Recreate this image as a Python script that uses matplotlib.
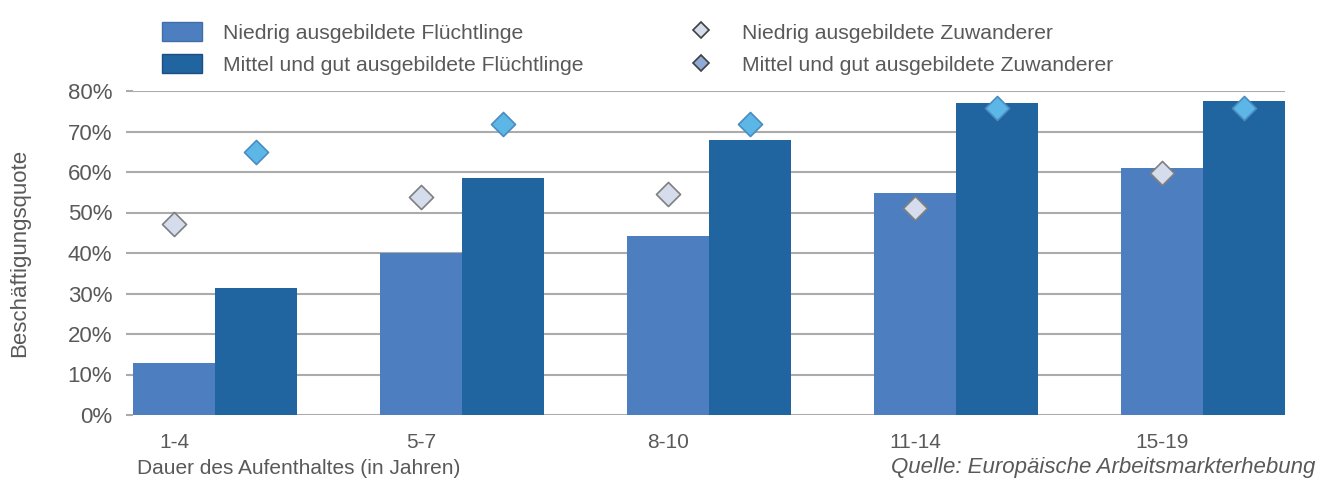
import matplotlib
matplotlib.use("Agg")
import matplotlib.pyplot as plt
from matplotlib.lines import Line2D
from matplotlib.patches import Patch
import numpy as np

plt.rcParams['font.family'] = ['Liberation Sans', 'DejaVu Sans']

categories = ["1-4", "5-7", "8-10", "11-14", "15-19"]
fluechtlinge_niedrig = [12.8, 40.0, 44.2, 54.8, 61.0]
fluechtlinge_mittel = [31.4, 58.5, 67.9, 77.1, 77.6]
zuwanderer_niedrig = [47.2, 53.8, 54.5, 51.1, 59.8]
zuwanderer_mittel = [65.0, 71.9, 71.9, 75.8, 75.8]

labels = ["Niedrig ausgebildete Flüchtlinge",
          "Mittel und gut ausgebildete Flüchtlinge",
          "Niedrig ausgebildete Zuwanderer",
          "Mittel und gut ausgebildete Zuwanderer"]

TXT = "#595959"
C_LIGHT = "#4D7FC0"
C_DARK = "#2064A0"
GRID = "#ABABAB"

W, H = 1338, 483
fig = plt.figure(figsize=(W / 100, H / 100), dpi=100)
ax = fig.add_axes([133 / W, 1 - 415 / H, (1285 - 133) / W, (415 - 91) / H])

x = np.arange(len(categories))
bw = 0.3323
ax.bar(x - bw / 2, fluechtlinge_niedrig, width=bw, color=C_LIGHT, zorder=2)
ax.bar(x + bw / 2, fluechtlinge_mittel, width=bw, color=C_DARK, zorder=2)
ax.scatter(x - bw / 2, zuwanderer_niedrig, marker="D", s=150, facecolor="#D5DCEB",
           edgecolor="#7F7F7F", linewidth=1.2, zorder=3)
ax.scatter(x + bw / 2, zuwanderer_mittel, marker="D", s=150, facecolor="#5CB6E6",
           edgecolor="#4A8CC0", linewidth=1.2, zorder=3)

ax.set_xlim(-bw, len(categories) - 1 + bw)
ax.set_ylim(0, 80)
ax.set_yticks(np.arange(0, 81, 10))
ax.set_yticklabels([f"{v}%" for v in range(0, 81, 10)])
ax.yaxis.grid(True, color=GRID, linewidth=1.5, zorder=0)
ax.set_axisbelow(True)
for s in ax.spines.values():
    s.set_visible(False)
ax.tick_params(axis="y", length=5, color=GRID, width=1.5, labelsize=16, labelcolor=TXT, pad=10)
ax.set_xticks(x - bw / 2)
ax.set_xticklabels(categories)
ax.tick_params(axis="x", length=0, labelsize=15, labelcolor=TXT, pad=13)

ax.set_ylabel("Beschäftigungsquote", fontsize=16, color=TXT, labelpad=27)

fig.text(137 / W, 1 - 468 / H, "Dauer des Aufenthaltes (in Jahren)", fontsize=15,
         color=TXT, ha="left", va="center")
fig.text(1315 / W, 1 - 468 / H, "Quelle: Europäische Arbeitsmarkterhebung", fontsize=16,
         color=TXT, ha="right", va="center", style="italic")

handles = [
    Patch(facecolor=C_LIGHT, edgecolor="#3F6FA8", linewidth=1),
    Patch(facecolor=C_DARK, edgecolor="#1A4F80", linewidth=1),
    Line2D([], [], linestyle="none", marker="D", markersize=8, markerfacecolor="#D5DCEB",
           markeredgecolor="#404040", markeredgewidth=1.2),
    Line2D([], [], linestyle="none", marker="D", markersize=8, markerfacecolor="#8FAAD6",
           markeredgecolor="#404040", markeredgewidth=1.2),
]
leg = fig.legend(handles, labels, ncol=2, loc="upper left",
                 bbox_to_anchor=(162 / W, 1 - 22 / H), frameon=False, fontsize=15.2,
                 handlelength=1.9, handleheight=1.0, handletextpad=1.0,
                 columnspacing=4.6, labelspacing=0.55, borderpad=0, borderaxespad=0)
for t in leg.get_texts():
    t.set_color(TXT)

fig.savefig("out.png", dpi=100)
